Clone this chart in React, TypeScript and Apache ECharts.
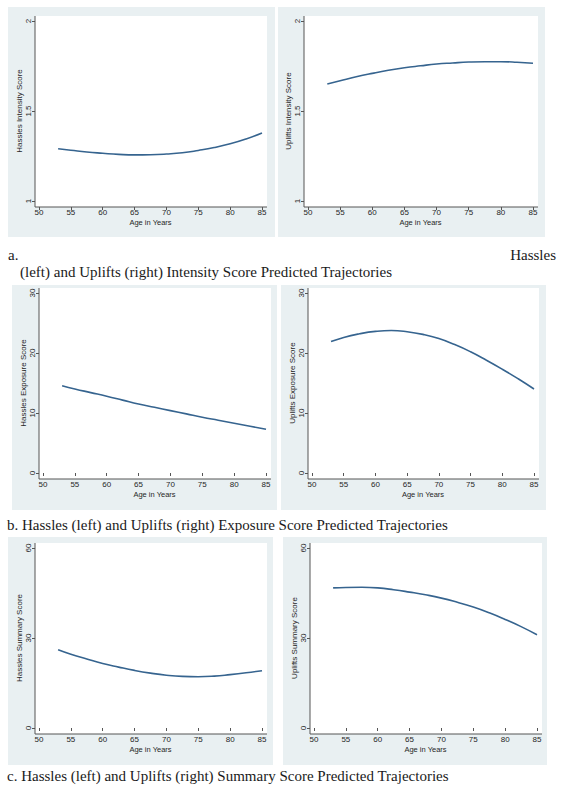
import React, { useEffect, useRef } from "react";
import * as echarts from "echarts";

// ---- Data ----
const ages = [53, 55, 57.5, 60, 62.5, 65, 67.5, 70, 72.5, 75, 77.5, 80, 82.5, 85];
const hasslesIntensity = [1.29, 1.282, 1.272, 1.265, 1.259, 1.256, 1.257, 1.261, 1.268, 1.281, 1.297, 1.318, 1.345, 1.378];
const upliftsIntensity = [1.65, 1.668, 1.69, 1.709, 1.726, 1.74, 1.751, 1.761, 1.767, 1.772, 1.774, 1.774, 1.771, 1.765];
const hasslesExposure = [14.55, 14.0, 13.4, 12.8, 12.15, 11.5, 10.95, 10.4, 9.85, 9.3, 8.8, 8.3, 7.8, 7.3];
const upliftsExposure = [21.9, 22.6, 23.2, 23.6, 23.75, 23.55, 23.1, 22.4, 21.4, 20.2, 18.8, 17.3, 15.7, 14.0];
const hasslesSummary = [26.1, 24.6, 23.0, 21.5, 20.3, 19.2, 18.3, 17.6, 17.2, 17.1, 17.3, 17.8, 18.4, 19.1];
const upliftsSummary = [46.7, 46.85, 46.9, 46.7, 46.1, 45.3, 44.4, 43.3, 41.9, 40.3, 38.4, 36.2, 33.8, 31.1];

const yTitles = [
  "Hassles Intensity Score",
  "Uplifts Intensity Score",
  "Hassles Exposure Score",
  "Uplifts Exposure Score",
  "Hassles Summary Score",
  "Uplifts Summary Score",
];
const xTitle = "Age in Years";
const yRanges = [
  [1, 2, 0.5],
  [1, 2, 0.5],
  [0, 30, 10],
  [0, 30, 10],
  [0, 60, 30],
  [0, 60, 30],
];
const xRange = [50, 85, 5];
const seriesValues = [hasslesIntensity, upliftsIntensity, hasslesExposure, upliftsExposure, hasslesSummary, upliftsSummary];

const captionA1 = "a.";
const captionA2 = "Hassles";
const captionA3 = "(left) and Uplifts (right) Intensity Score Predicted Trajectories";
const captionB = "b. Hassles (left) and Uplifts (right) Exposure Score Predicted Trajectories";
const captionC = "c. Hassles (left) and Uplifts (right) Summary Score Predicted Trajectories";

// ---- Layout ----
// data rect of each panel: [left, top, right, bottom]
const dataRects = [
  [39, 21, 262, 201],
  [308, 21, 533, 201],
  [43, 293, 266, 473],
  [312, 293, 534, 473],
  [39, 548, 262, 728],
  [314, 548, 537, 728],
];
// background (graph region) rects: [x0, y0, x1, y1]
const bgRects = [
  [8, 7, 275, 237],
  [278, 7, 545, 237],
  [12, 285, 277, 510],
  [281, 285, 546, 510],
  [8, 537, 273, 765],
  [283, 537, 547, 765],
];

const SANS = '"Liberation Sans", Arial, sans-serif';
const SERIF = '"Liberation Serif", "Times New Roman", serif';
const BG = "#e9f0f2";
const AXIS = "#555";
const LINE = "#36648f";
const TXT = "#262626";
const PADL = 4, PADR = 5, PADT = 5, PADB = 6;

export default function App() {
  const ref = useRef<HTMLDivElement>(null);
  useEffect(() => {
    if (!ref.current) return;
    const chart = echarts.init(ref.current, undefined, { renderer: "svg" });

    const grids: any[] = [];
    const xAxes: any[] = [];
    const yAxes: any[] = [];
    const series: any[] = [];
    const graphics: any[] = [];

    dataRects.forEach((r, i) => {
      const [l, t, rr, b] = r;
      grids.push({ left: l, top: t, width: rr - l, height: b - t });
      const [bx0, by0, bx1, by1] = bgRects[i];
      graphics.push({
        type: "rect",
        z: -20,
        shape: { x: bx0, y: by0, width: bx1 - bx0, height: by1 - by0 },
        style: { fill: BG },
        silent: true,
      });
      graphics.push({
        type: "rect",
        z: -19,
        shape: { x: l - PADL, y: t - PADT, width: rr - l + PADL + PADR, height: b - t + PADT + PADB },
        style: { fill: "#ffffff" },
        silent: true,
      });
      graphics.push({
        type: "line",
        z: -18,
        shape: { x1: l - PADL, y1: t - PADT, x2: l - PADL, y2: b + PADB },
        style: { stroke: AXIS, lineWidth: 1 },
        silent: true,
      });
      graphics.push({
        type: "line",
        z: -18,
        shape: { x1: l - PADL, y1: b + PADB, x2: rr + PADR, y2: b + PADB },
        style: { stroke: AXIS, lineWidth: 1 },
        silent: true,
      });

      xAxes.push({
        gridIndex: i,
        type: "value",
        min: xRange[0],
        max: xRange[1],
        interval: xRange[2],
        offset: PADB,
        axisLine: { show: false },
        axisTick: { show: true, length: 3, lineStyle: { color: AXIS, width: 1 } },
        axisLabel: { fontSize: 8, color: TXT, margin: 1, fontFamily: SANS },
        splitLine: { show: false },
        name: xTitle,
        nameLocation: "middle",
        nameGap: 11,
        nameTextStyle: { fontSize: 7.5, color: TXT, fontFamily: SANS },
      });
      const [ymin, ymax, yint] = yRanges[i];
      yAxes.push({
        gridIndex: i,
        type: "value",
        min: ymin,
        max: ymax,
        interval: yint,
        offset: PADL,
        axisLine: { show: false },
        axisTick: { show: true, length: 3, lineStyle: { color: AXIS, width: 1 } },
        axisLabel: { fontSize: 8, color: TXT, margin: 3, rotate: 90, fontFamily: SANS },
        splitLine: { show: false },
        name: yTitles[i],
        nameLocation: "middle",
        nameGap: 11,
        nameTextStyle: { fontSize: 8, color: TXT, fontFamily: SANS },
      });
      series.push({
        type: "line",
        xAxisIndex: i,
        yAxisIndex: i,
        data: ages.map((a, k) => [a, seriesValues[i][k]]),
        showSymbol: false,
        smooth: true,
        lineStyle: { color: LINE, width: 1.6 },
        itemStyle: { color: LINE },
      });
    });

    const capStyle = (text: string, align: string) => ({
      text,
      fill: "#1a1a1a",
      fontSize: 15,
      fontFamily: SERIF,
      textAlign: align,
      textVerticalAlign: "middle",
    });
    graphics.push({ type: "text", x: 8, y: 255, style: capStyle(captionA1, "left") });
    graphics.push({ type: "text", x: 556, y: 255, style: capStyle(captionA2, "right") });
    graphics.push({ type: "text", x: 20, y: 272, style: capStyle(captionA3, "left") });
    graphics.push({ type: "text", x: 7, y: 525, style: capStyle(captionB, "left") });
    graphics.push({ type: "text", x: 7, y: 776, style: capStyle(captionC, "left") });

    chart.setOption({
      animation: false,
      backgroundColor: "#ffffff",
      grid: grids,
      xAxis: xAxes,
      yAxis: yAxes,
      series,
      graphic: { elements: graphics },
    });
    return () => chart.dispose();
  }, []);
  return (
    <div
      ref={ref}
      style={{ position: "absolute", left: 0, top: 0, width: 564, height: 790 }}
    />
  );
}
